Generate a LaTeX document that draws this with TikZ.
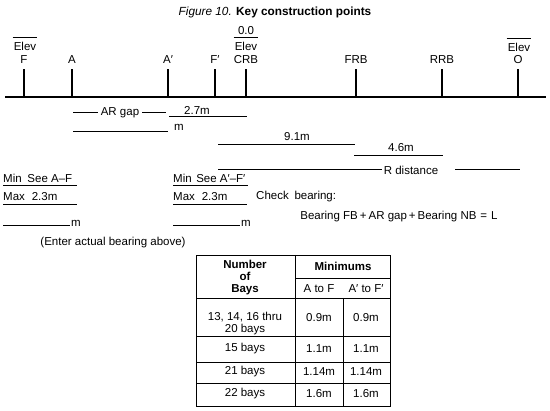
\documentclass[tikz,border=0pt]{standalone}
\usepackage{fontspec}
\setmainfont{Liberation Sans}
\usetikzlibrary{positioning}

\begin{document}
\begin{tikzpicture}[x=1pt, y=-1pt,
  every node/.style={font=\fontsize{11.5}{12}\selectfont, inner sep=1pt, align=center},
  bold/.style={font=\fontsize{11.5}{12}\selectfont\bfseries},
  tick/.style={line width=1.6pt},
  rule/.style={line width=1pt},
  grid/.style={line width=0.9pt}
]
\useasboundingbox (0,0) rectangle (550,411);

\node (title) at (275,12)
  {\fontsize{11.8}{13}\selectfont\itshape Figure 10. \upshape\bfseries Key construction points};

% base line with the construction points
\draw[tick] (5,97) -- (546,97);
\foreach \name/\x/\txt in {F/24/F, A/72/A, Ap/168/A′, Fp/215/F′, CRB/246/CRB,
                           FRB/356/FRB, RRB/442/RRB, O/518/O} {
  \coordinate (b\name) at (\x,97);
  \coordinate (t\name) at (\x,69);
  \draw[tick] (b\name) -- (t\name);
  \node (l\name) at (\x,60) {\txt};
}

% elevations
\node (eF) at (25,46) {Elev};
\draw[rule] ([yshift=3.5pt]eF.north west) -- ([yshift=3.5pt]eF.north east);
\node (zCRB) at (246,31) {0.0};
\node (eCRB) at (246,46) {Elev};
\draw[rule] ([yshift=3.5pt]eCRB.north west) -- ([yshift=3.5pt]eCRB.north east);
\node (eO) at (519,47) {Elev};
\draw[rule] ([yshift=3.5pt]eO.north west) -- ([yshift=3.5pt]eO.north east);

% distances
\node[inner sep=3pt] (gap) at (120,113) {AR gap};
\draw[rule] (73,113) -- (gap.west);
\draw[rule] (gap.east) -- (166,113);
\node (d27) at (197,110) {2.7m};
\draw[rule] (169,117) -- (247,117);
\draw[rule] (73,132) -- (168,132);
\node[anchor=west] (mgap) at (173,127) {m};
\node (d91) at (297,137) {9.1m};
\draw[rule] (218,145) -- (355,145);
\node (d46) at (401,148) {4.6m};
\draw[rule] (354,156) -- (443,156);
\node[inner sep=2pt] (rdist) at (411,170) {R distance};
\draw[rule] (218,170) -- (rdist.west);
\draw[rule] (455,170) -- (520,170);

% bearings
\node[anchor=west] (minL) at (2,178) {Min\hspace{0.5em}See A–F};
\draw[rule] (3,186) -- (77,186);
\node[anchor=west] (minR) at (172,178) {Min\hspace{0.4em}See A′–F′};
\draw[rule] (173,186) -- (248,186);
\node[anchor=west] (maxL) at (2,197) {Max\hspace{0.6em}2.3m};
\draw[rule] (3,205) -- (77,205);
\node[anchor=west] (maxR) at (172,197) {Max\hspace{0.6em}2.3m};
\draw[rule] (173,205) -- (247,205);
\node[anchor=west] (check) at (255,197) {Check\hspace{0.5em}bearing:};
\draw[rule] (3,226) -- (70,226);
\node[anchor=west] (mL) at (70,223) {m};
\draw[rule] (173,226) -- (240,226);
\node[anchor=west] (mR) at (240,223) {m};
\node (enter) at (113,243) {(Enter actual bearing above)};
\node (eq) at (399,217)
  {Bearing FB\hspace{2pt}+\hspace{2pt}AR gap\hspace{2pt}+\hspace{2pt}Bearing NB\hspace{4pt}=\hspace{4pt}L};

% table of minimums
\draw[grid] (196,255) rectangle (390,406);
\draw[grid] (295,255) -- (295,406);
\draw[grid] (295,278) -- (390,278);
\draw[grid] (196,298) -- (390,298);
\draw[grid] (343,298) -- (343,406);
\foreach \y in {336,362,383}
  \draw[grid] (196,\y) -- (390,\y);

\node[bold] (num) at (245,278) {Number\\of\\Bays};
\node[bold] (mins) at (343,266) {Minimums};
\node (hA) at (319,289) {A to F};
\node (hAp) at (366,289) {A′ to F′};
\node (bays13) at (245,324) {13, 14, 16 thru\\20 bays};
\node (minA13) at (319,318) {0.9m};
\node (minB13) at (366,318) {0.9m};
\foreach \y/\n/\v in {349/15/1.1m, 372/21/1.14m, 394/22/1.6m} {
  \node (bays\n) at (245,\y) {\n\ bays};
  \node (minA\n) at (319,\y) {\v};
  \node (minB\n) at (366,\y) {\v};
}
\end{tikzpicture}
\end{document}
